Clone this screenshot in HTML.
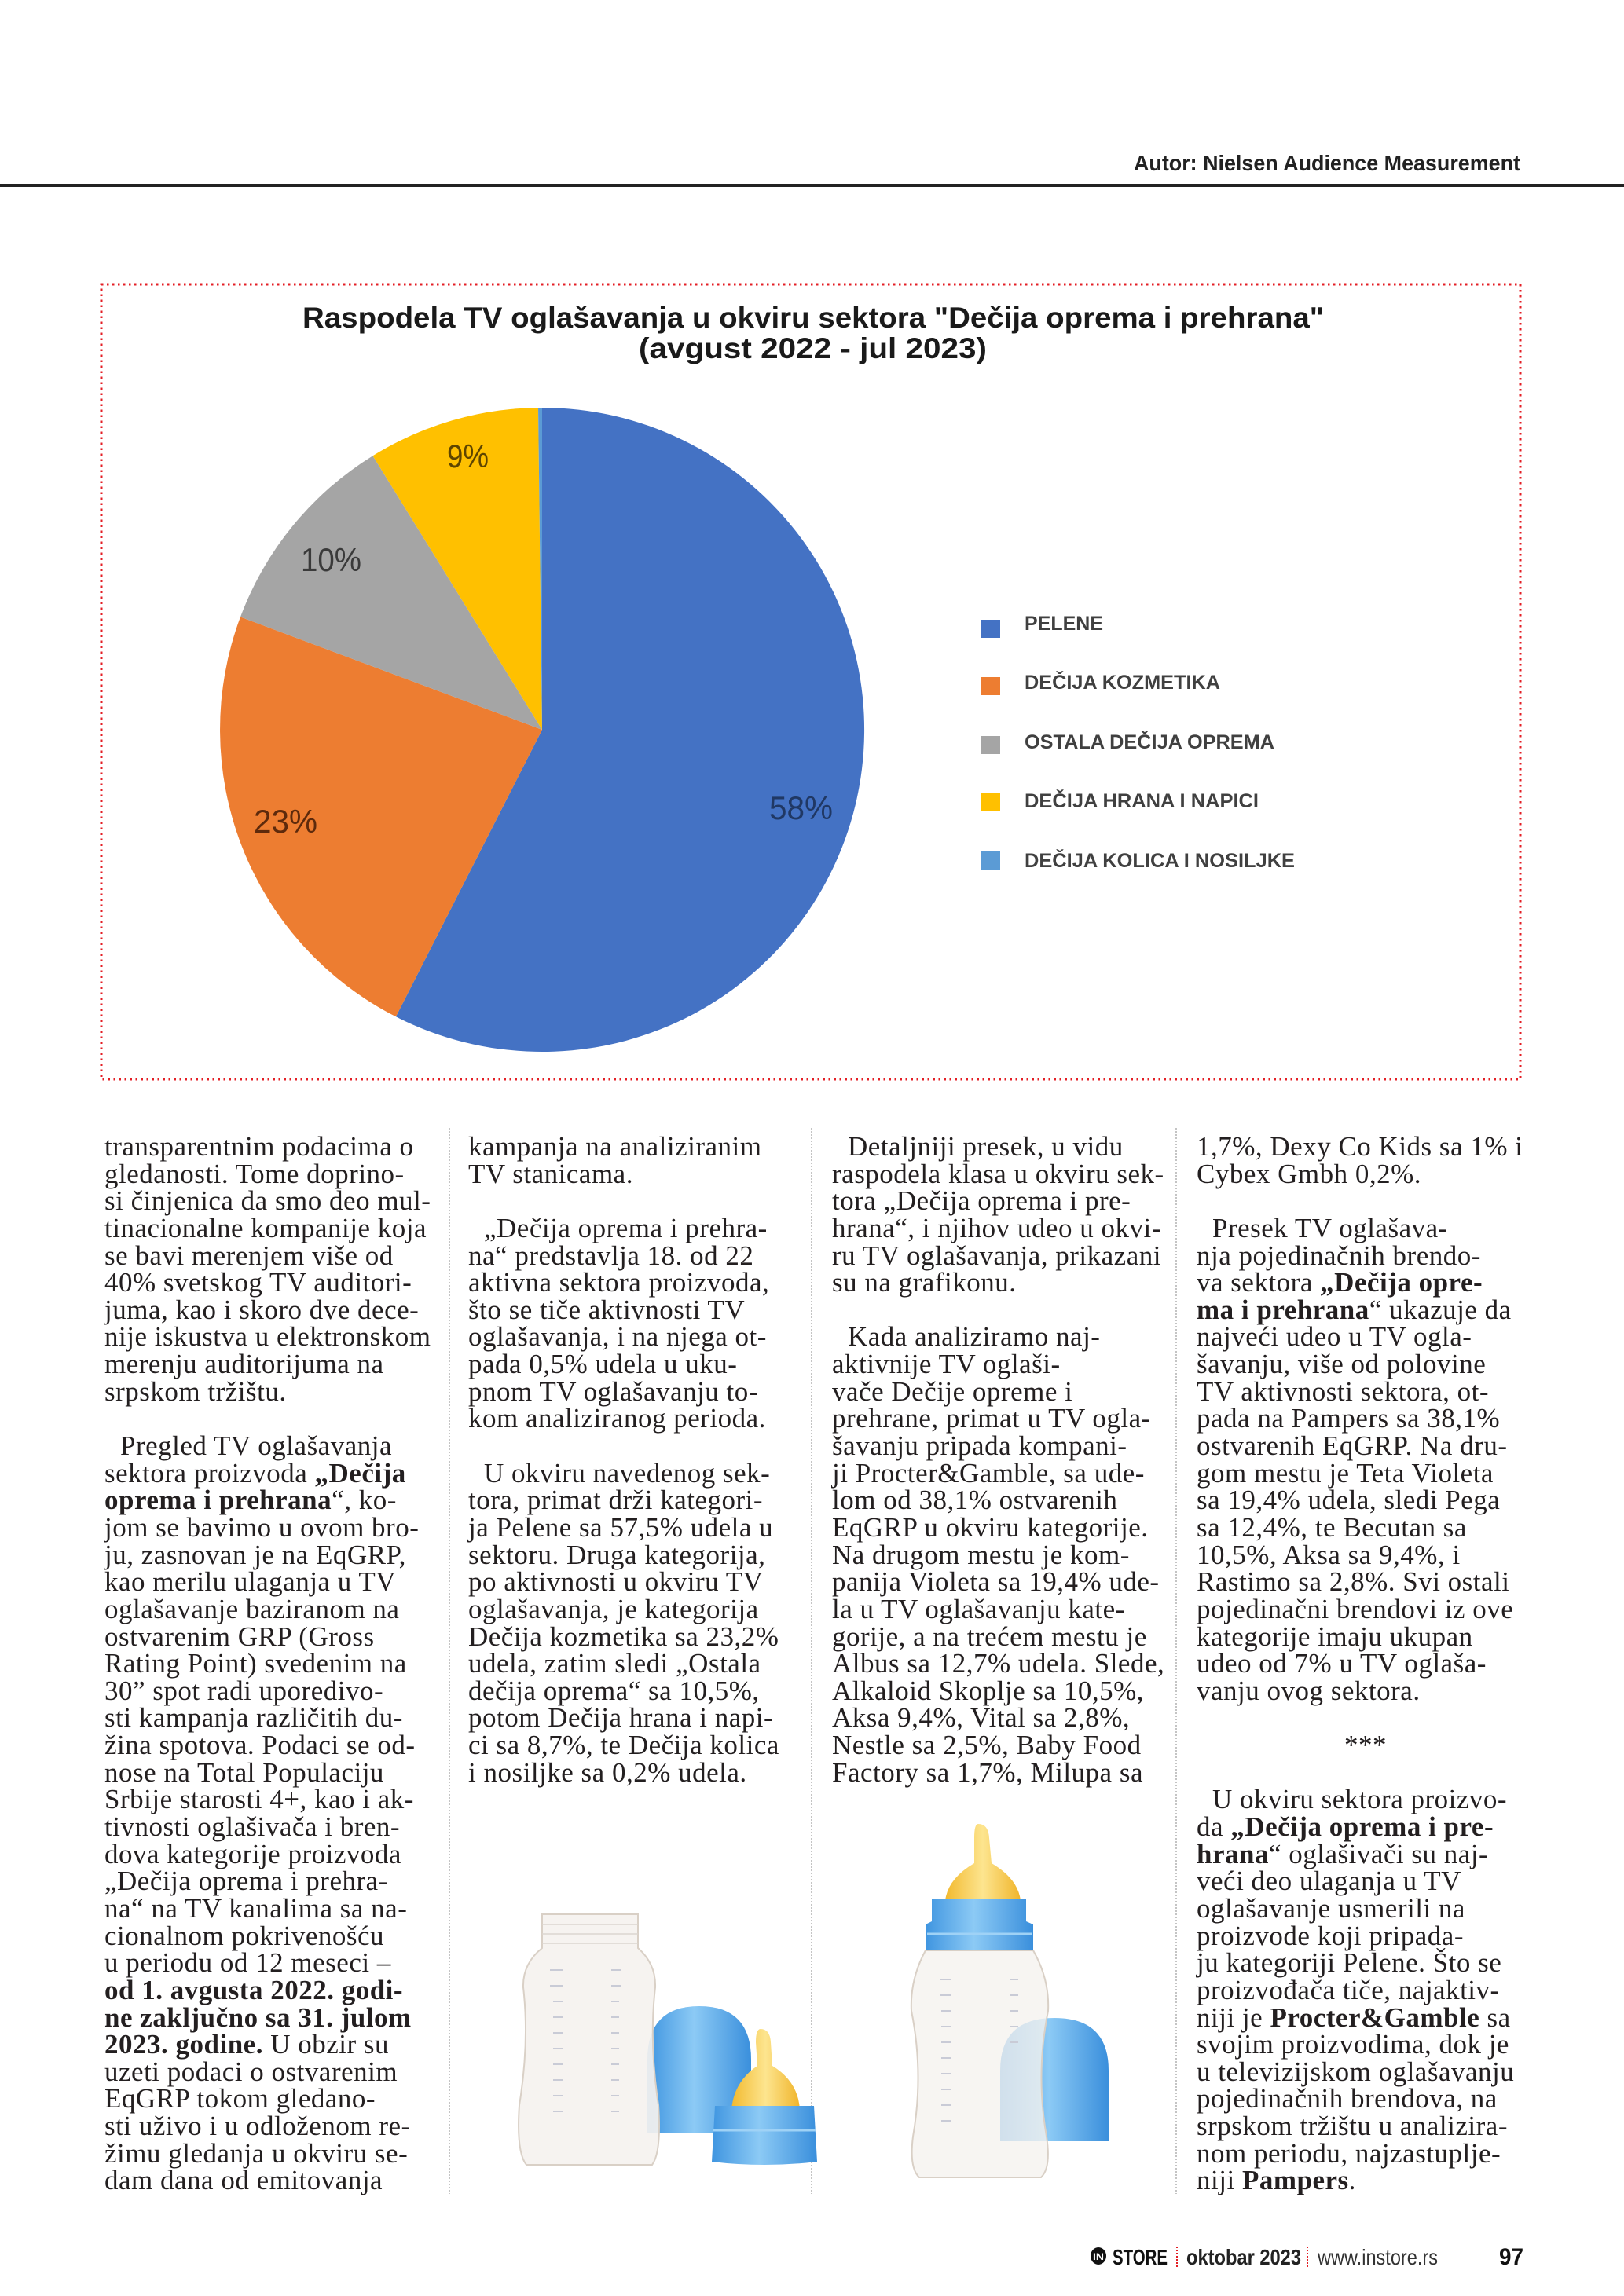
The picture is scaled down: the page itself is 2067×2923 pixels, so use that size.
<!DOCTYPE html>
<html>
<head>
<meta charset="utf-8">
<style>
html,body{margin:0;padding:0;background:#fff;}
body{width:2067px;height:2923px;position:relative;overflow:hidden;}
svg.bg{position:absolute;left:0;top:0;}
.col{position:absolute;top:1443px;width:430px;font-family:"Liberation Serif",serif;font-size:35px;line-height:34.65px;letter-spacing:0.5px;color:#231f20;}
.col div{white-space:nowrap;height:34.65px;}
.col .i{padding-left:20px;}
.col .c{text-align:center;}
b{font-weight:bold;}
</style>
</head>
<body>
<svg class="bg" width="2067" height="2923" viewBox="0 0 2067 2923" xmlns="http://www.w3.org/2000/svg">
  <!-- header -->
  <text x="1443" y="217" font-family="Liberation Sans, sans-serif" font-weight="bold" font-size="28" fill="#222" textLength="492" lengthAdjust="spacingAndGlyphs">Autor: Nielsen Audience Measurement</text>
  <rect x="0" y="234" width="2067" height="4" fill="#222"/>

  <!-- red dotted frame -->
  <rect x="129" y="362" width="1806" height="1012" fill="none" stroke="#e31e24" stroke-width="3" stroke-dasharray="2.5 4.5"/>

  <!-- title -->
  <text x="385" y="417" font-family="Liberation Sans, sans-serif" font-weight="bold" font-size="37" fill="#1a1a1a" textLength="1300" lengthAdjust="spacingAndGlyphs">Raspodela TV oglašavanja u okviru sektora "Dečija oprema i prehrana"</text>
  <text x="813" y="456" font-family="Liberation Sans, sans-serif" font-weight="bold" font-size="37" fill="#1a1a1a" textLength="443" lengthAdjust="spacingAndGlyphs">(avgust 2022 - jul 2023)</text>

  <!-- pie -->
  <path d="M690,929 L690,519 A410,410 0 1 1 503.9,1294.3 Z" fill="#4472C4"/>
  <path d="M690,929 L503.9,1294.3 A410,410 0 0 1 306.0,785.4 Z" fill="#ED7D31"/>
  <path d="M690,929 L306.0,785.4 A410,410 0 0 1 474.5,580.2 Z" fill="#A5A5A5"/>
  <path d="M690,929 L474.5,580.2 A410,410 0 0 1 685.0,519.0 Z" fill="#FFC000"/>
  <path d="M690,929 L685.0,519.0 A410,410 0 0 1 690,519 Z" fill="#5B9BD5"/>

  <g font-family="Liberation Sans, sans-serif" font-size="42">
    <text x="979" y="1043" fill="#203864" textLength="81" lengthAdjust="spacingAndGlyphs">58%</text>
    <text x="323" y="1060" fill="#5e2a0c" textLength="81" lengthAdjust="spacingAndGlyphs">23%</text>
    <text x="383" y="727" fill="#3a3a3a" textLength="77" lengthAdjust="spacingAndGlyphs">10%</text>
    <text x="569" y="595" fill="#5e4500" textLength="53" lengthAdjust="spacingAndGlyphs">9%</text>
  </g>

  <!-- legend -->
  <rect x="1249" y="789" width="24" height="23" fill="#4472C4"/>
  <rect x="1249" y="862" width="24" height="23" fill="#ED7D31"/>
  <rect x="1249" y="937" width="24" height="23" fill="#A5A5A5"/>
  <rect x="1249" y="1010" width="24" height="23" fill="#FFC000"/>
  <rect x="1249" y="1084" width="24" height="23" fill="#5B9BD5"/>
  <g font-family="Liberation Sans, sans-serif" font-weight="bold" font-size="25" fill="#404040">
    <text x="1304" y="802" textLength="100" lengthAdjust="spacingAndGlyphs">PELENE</text>
    <text x="1304" y="877" textLength="249" lengthAdjust="spacingAndGlyphs">DEČIJA KOZMETIKA</text>
    <text x="1304" y="953" textLength="318" lengthAdjust="spacingAndGlyphs">OSTALA DEČIJA OPREMA</text>
    <text x="1304" y="1028" textLength="298" lengthAdjust="spacingAndGlyphs">DEČIJA HRANA I NAPICI</text>
    <text x="1304" y="1104" textLength="344" lengthAdjust="spacingAndGlyphs">DEČIJA KOLICA I NOSILJKE</text>
  </g>

  <!-- column separators -->
  <g stroke="#b0b0b0" stroke-width="1.5" stroke-dasharray="2 2">
    <line x1="572" y1="1436" x2="572" y2="2793"/>
    <line x1="1033" y1="1436" x2="1033" y2="2793"/>
    <line x1="1497" y1="1436" x2="1497" y2="2793"/>
  </g>

  <!-- bottles -->
  <defs>
    <linearGradient id="blu" x1="0" x2="1" y1="0" y2="0">
      <stop offset="0" stop-color="#3f95e0"/>
      <stop offset="0.45" stop-color="#8ccaf5"/>
      <stop offset="1" stop-color="#3a8fdc"/>
    </linearGradient>
    <linearGradient id="yel" x1="0" x2="1" y1="0" y2="0">
      <stop offset="0" stop-color="#f2b92e"/>
      <stop offset="0.5" stop-color="#fde58f"/>
      <stop offset="1" stop-color="#f0b42a"/>
    </linearGradient>
  </defs>
  <!-- left cap (dome) -->
  <path d="M824,2715 L824,2622 Q824,2554 890,2554 Q956,2554 956,2622 L956,2715 Z" fill="url(#blu)"/>
  <!-- left bottle -->
  <path d="M690,2437 L812,2437 L812,2480 Q835,2500 834,2530 Q826,2600 838,2680 Q842,2740 830,2756 L670,2756 Q657,2740 661,2680 Q674,2600 666,2530 Q665,2500 690,2480 Z" fill="#f5f2ef" fill-opacity="0.92" stroke="#d9d0c6" stroke-width="2"/>
  <g stroke="#dcd6cf" stroke-width="1.5">
    <line x1="690" y1="2450" x2="812" y2="2450"/>
    <line x1="690" y1="2462" x2="812" y2="2462"/>
    <line x1="690" y1="2474" x2="812" y2="2474"/>
  </g>
  <g stroke="#c9cbd6" stroke-width="2">
    <line x1="700" y1="2508" x2="716" y2="2508"/><line x1="778" y1="2508" x2="790" y2="2508"/>
    <line x1="700" y1="2528" x2="716" y2="2528"/><line x1="778" y1="2528" x2="790" y2="2528"/>
    <line x1="704" y1="2548" x2="716" y2="2548"/><line x1="778" y1="2548" x2="788" y2="2548"/>
    <line x1="704" y1="2568" x2="716" y2="2568"/><line x1="778" y1="2568" x2="788" y2="2568"/>
    <line x1="704" y1="2588" x2="716" y2="2588"/><line x1="778" y1="2588" x2="788" y2="2588"/>
    <line x1="704" y1="2608" x2="716" y2="2608"/><line x1="778" y1="2608" x2="788" y2="2608"/>
    <line x1="704" y1="2628" x2="716" y2="2628"/><line x1="778" y1="2628" x2="788" y2="2628"/>
    <line x1="704" y1="2648" x2="716" y2="2648"/><line x1="778" y1="2648" x2="788" y2="2648"/>
    <line x1="704" y1="2668" x2="716" y2="2668"/><line x1="778" y1="2668" x2="788" y2="2668"/>
    <line x1="704" y1="2688" x2="716" y2="2688"/><line x1="778" y1="2688" x2="788" y2="2688"/>
  </g>
  <!-- small nipple + ring -->
  <path d="M968,2583 Q980,2583 981,2600 L983,2630 Q1016,2650 1018,2686 L931,2686 Q934,2650 964,2630 L962,2600 Q962,2583 968,2583 Z" fill="url(#yel)"/>
  <path d="M910,2681 L1036,2681 L1040,2752 Q973,2760 906,2752 Z" fill="url(#blu)"/>
  <line x1="908" y1="2712" x2="1038" y2="2712" stroke="#9fd2f6" stroke-width="3"/>

  <!-- right cap -->
  <path d="M1273,2726 L1273,2636 Q1273,2569 1342,2569 Q1411,2569 1411,2636 L1411,2726 Z" fill="url(#blu)"/>
  <!-- right nipple -->
  <path d="M1245,2322 Q1258,2322 1259,2340 L1262,2372 Q1296,2392 1299,2420 L1203,2420 Q1206,2392 1240,2372 L1240,2340 Q1240,2322 1245,2322 Z" fill="url(#yel)"/>
  <!-- right collar -->
  <path d="M1186,2418 L1306,2418 L1306,2446 L1315,2450 L1315,2483 L1178,2483 L1178,2450 L1186,2446 Z" fill="url(#blu)"/>
  <line x1="1180" y1="2462" x2="1313" y2="2462" stroke="#9fd2f6" stroke-width="3"/>
  <!-- right bottle body -->
  <path d="M1178,2483 L1315,2483 Q1336,2520 1334,2560 Q1318,2640 1332,2720 Q1338,2760 1325,2772 L1170,2772 Q1157,2760 1162,2720 Q1176,2640 1160,2560 Q1158,2520 1178,2483 Z" fill="#f5f2ef" fill-opacity="0.8" stroke="#d9d0c6" stroke-width="2"/>
  <g stroke="#c9cbd6" stroke-width="2">
    <line x1="1196" y1="2520" x2="1210" y2="2520"/><line x1="1286" y1="2520" x2="1296" y2="2520"/>
    <line x1="1196" y1="2540" x2="1210" y2="2540"/><line x1="1286" y1="2540" x2="1296" y2="2540"/>
    <line x1="1198" y1="2560" x2="1210" y2="2560"/><line x1="1286" y1="2560" x2="1296" y2="2560"/>
    <line x1="1198" y1="2580" x2="1210" y2="2580"/><line x1="1286" y1="2580" x2="1296" y2="2580"/>
    <line x1="1198" y1="2600" x2="1210" y2="2600"/><line x1="1286" y1="2600" x2="1296" y2="2600"/>
    <line x1="1198" y1="2620" x2="1210" y2="2620"/>
    <line x1="1198" y1="2640" x2="1210" y2="2640"/>
    <line x1="1198" y1="2660" x2="1210" y2="2660"/>
    <line x1="1198" y1="2680" x2="1210" y2="2680"/>
    <line x1="1198" y1="2700" x2="1210" y2="2700"/>
  </g>

  <!-- footer -->
  <ellipse cx="1398" cy="2872" rx="10" ry="11" fill="#111"/>
  <text x="1391" y="2877" font-family="Liberation Sans, sans-serif" font-weight="bold" font-size="12" fill="#fff" textLength="14" lengthAdjust="spacingAndGlyphs">IN</text>
  <text x="1416" y="2883" font-family="Liberation Sans, sans-serif" font-weight="bold" font-size="28" fill="#111" textLength="70" lengthAdjust="spacingAndGlyphs">STORE</text>
  <line x1="1498" y1="2860" x2="1498" y2="2886" stroke="#e31e24" stroke-width="2" stroke-dasharray="2 2"/>
  <text x="1510" y="2883" font-family="Liberation Sans, sans-serif" font-weight="bold" font-size="28" fill="#222" textLength="146" lengthAdjust="spacingAndGlyphs">oktobar 2023</text>
  <line x1="1664" y1="2860" x2="1664" y2="2886" stroke="#e31e24" stroke-width="2" stroke-dasharray="2 2"/>
  <text x="1677" y="2883" font-family="Liberation Sans, sans-serif" font-size="28" fill="#333" textLength="153" lengthAdjust="spacingAndGlyphs">www.instore.rs</text>
  <text x="1908" y="2883" font-family="Liberation Sans, sans-serif" font-weight="bold" font-size="30" fill="#111" textLength="31" lengthAdjust="spacingAndGlyphs">97</text>
</svg>

<div class="col" style="left:133px;">
<div>transparentnim podacima o</div>
<div>gledanosti. Tome doprino-</div>
<div>si činjenica da smo deo mul-</div>
<div>tinacionalne kompanije koja</div>
<div>se bavi merenjem više od</div>
<div>40% svetskog TV auditori-</div>
<div>juma, kao i skoro dve dece-</div>
<div>nije iskustva u elektronskom</div>
<div>merenju auditorijuma na</div>
<div>srpskom tržištu.</div>
<div>&nbsp;</div>
<div class="i">Pregled TV oglašavanja</div>
<div>sektora proizvoda <b>„Dečija</b></div>
<div><b>oprema i prehrana</b>“, ko-</div>
<div>jom se bavimo u ovom bro-</div>
<div>ju, zasnovan je na EqGRP,</div>
<div>kao merilu ulaganja u TV</div>
<div>oglašavanje baziranom na</div>
<div>ostvarenim GRP (Gross</div>
<div>Rating Point) svedenim na</div>
<div>30” spot radi uporedivo-</div>
<div>sti kampanja različitih du-</div>
<div>žina spotova. Podaci se od-</div>
<div>nose na Total Populaciju</div>
<div>Srbije starosti 4+, kao i ak-</div>
<div>tivnosti oglašivača i bren-</div>
<div>dova kategorije proizvoda</div>
<div>„Dečija oprema i prehra-</div>
<div>na“ na TV kanalima sa na-</div>
<div>cionalnom pokrivenošću</div>
<div>u periodu od 12 meseci –</div>
<div><b>od 1. avgusta 2022. godi-</b></div>
<div><b>ne zaključno sa 31. julom</b></div>
<div><b>2023. godine.</b> U obzir su</div>
<div>uzeti podaci o ostvarenim</div>
<div>EqGRP tokom gledano-</div>
<div>sti uživo i u odloženom re-</div>
<div>žimu gledanja u okviru se-</div>
<div>dam dana od emitovanja</div>
</div>

<div class="col" style="left:596px;">
<div>kampanja na analiziranim</div>
<div>TV stanicama.</div>
<div>&nbsp;</div>
<div class="i">„Dečija oprema i prehra-</div>
<div>na“ predstavlja 18. od 22</div>
<div>aktivna sektora proizvoda,</div>
<div>što se tiče aktivnosti TV</div>
<div>oglašavanja, i na njega ot-</div>
<div>pada 0,5% udela u uku-</div>
<div>pnom TV oglašavanju to-</div>
<div>kom analiziranog perioda.</div>
<div>&nbsp;</div>
<div class="i">U okviru navedenog sek-</div>
<div>tora, primat drži kategori-</div>
<div>ja Pelene sa 57,5% udela u</div>
<div>sektoru. Druga kategorija,</div>
<div>po aktivnosti u okviru TV</div>
<div>oglašavanja, je kategorija</div>
<div>Dečija kozmetika sa 23,2%</div>
<div>udela, zatim sledi „Ostala</div>
<div>dečija oprema“ sa 10,5%,</div>
<div>potom Dečija hrana i napi-</div>
<div>ci sa 8,7%, te Dečija kolica</div>
<div>i nosiljke sa 0,2% udela.</div>
</div>

<div class="col" style="left:1059px;">
<div class="i">Detaljniji presek, u vidu</div>
<div>raspodela klasa u okviru sek-</div>
<div>tora „Dečija oprema i pre-</div>
<div>hrana“, i njihov udeo u okvi-</div>
<div>ru TV oglašavanja, prikazani</div>
<div>su na grafikonu.</div>
<div>&nbsp;</div>
<div class="i">Kada analiziramo naj-</div>
<div>aktivnije TV oglaši-</div>
<div>vače Dečije opreme i</div>
<div>prehrane, primat u TV ogla-</div>
<div>šavanju pripada kompani-</div>
<div>ji Procter&amp;Gamble, sa ude-</div>
<div>lom od 38,1% ostvarenih</div>
<div>EqGRP u okviru kategorije.</div>
<div>Na drugom mestu je kom-</div>
<div>panija Violeta sa 19,4% ude-</div>
<div>la u TV oglašavanju kate-</div>
<div>gorije, a na trećem mestu je</div>
<div>Albus sa 12,7% udela. Slede,</div>
<div>Alkaloid Skoplje sa 10,5%,</div>
<div>Aksa 9,4%, Vital sa 2,8%,</div>
<div>Nestle sa 2,5%, Baby Food</div>
<div>Factory sa 1,7%, Milupa sa</div>
</div>

<div class="col" style="left:1523px;">
<div>1,7%, Dexy Co Kids sa 1% i</div>
<div>Cybex Gmbh 0,2%.</div>
<div>&nbsp;</div>
<div class="i">Presek TV oglašava-</div>
<div>nja pojedinačnih brendo-</div>
<div>va sektora <b>„Dečija opre-</b></div>
<div><b>ma i prehrana</b>“ ukazuje da</div>
<div>najveći udeo u TV ogla-</div>
<div>šavanju, više od polovine</div>
<div>TV aktivnosti sektora, ot-</div>
<div>pada na Pampers sa 38,1%</div>
<div>ostvarenih EqGRP. Na dru-</div>
<div>gom mestu je Teta Violeta</div>
<div>sa 19,4% udela, sledi Pega</div>
<div>sa 12,4%, te Becutan sa</div>
<div>10,5%, Aksa sa 9,4%, i</div>
<div>Rastimo sa 2,8%. Svi ostali</div>
<div>pojedinačni brendovi iz ove</div>
<div>kategorije imaju ukupan</div>
<div>udeo od 7% u TV oglaša-</div>
<div>vanju ovog sektora.</div>
<div>&nbsp;</div>
<div class="c">***</div>
<div>&nbsp;</div>
<div class="i">U okviru sektora proizvo-</div>
<div>da <b>„Dečija oprema i pre-</b></div>
<div><b>hrana</b>“ oglašivači su naj-</div>
<div>veći deo ulaganja u TV</div>
<div>oglašavanje usmerili na</div>
<div>proizvode koji pripada-</div>
<div>ju kategoriji Pelene. Što se</div>
<div>proizvođača tiče, najaktiv-</div>
<div>niji je <b>Procter&amp;Gamble</b> sa</div>
<div>svojim proizvodima, dok je</div>
<div>u televizijskom oglašavanju</div>
<div>pojedinačnih brendova, na</div>
<div>srpskom tržištu u analizira-</div>
<div>nom periodu, najzastuplje-</div>
<div>niji <b>Pampers</b>.</div>
</div>
</body>
</html>
